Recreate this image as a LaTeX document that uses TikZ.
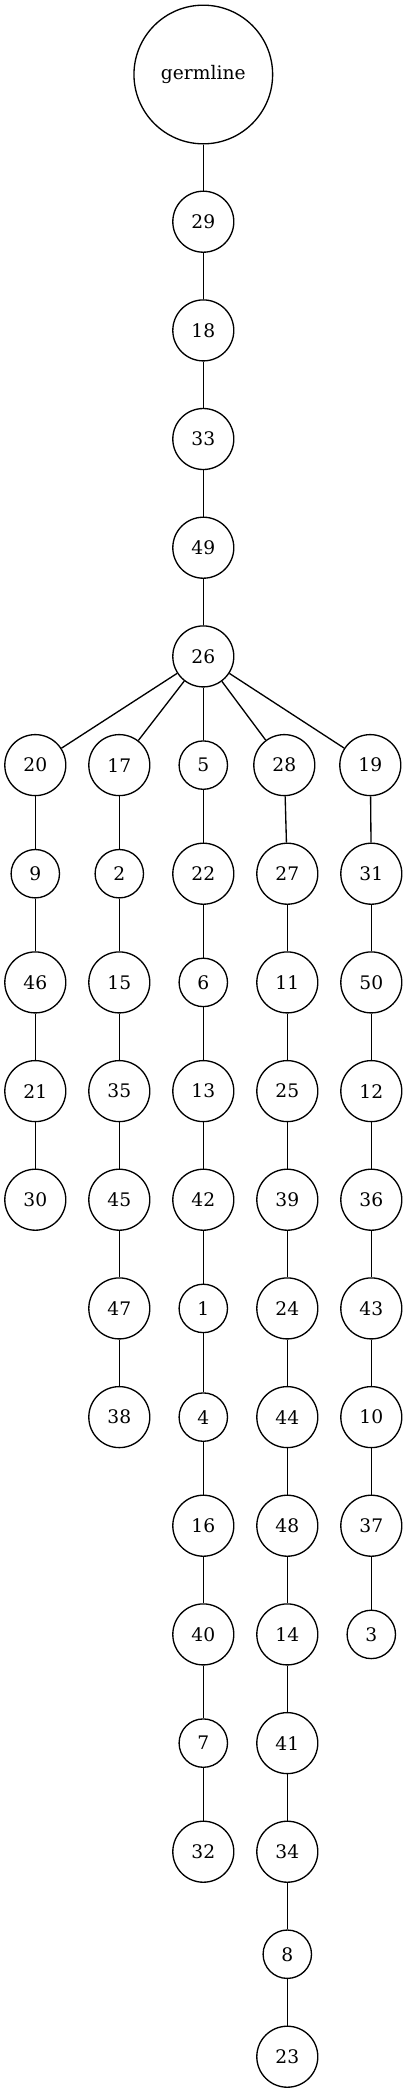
\documentclass[tikz,border=0pt]{standalone}
\usepackage{fontspec}
\setmainfont{DejaVu Serif}
\usepackage{tikz}

\begin{document}
\begin{tikzpicture}[x=0.75pt,y=0.75pt,yscale=-1,xscale=1,
    every node/.style={font=\fontsize{14}{17}\selectfont},
    numnode/.style={draw,circle,line width=1pt,inner sep=0pt,minimum size=45.75pt},
    onenode/.style={draw,circle,line width=1pt,inner sep=0pt,minimum size=36.3pt},
    germnode/.style={draw,circle,line width=1pt,inner sep=0pt,minimum size=104pt},
    edge/.style={line width=1pt}]
        %set diagram left start at 0, and has height of 2093
        \useasboundingbox (0,0) rectangle (407,2093);

        % Root
        \node [germnode] (germ) at (203.3,74.5) {germline};
        \node [numnode] (n29) at (203.3,221.7) {29};
        \node [numnode] (n18) at (203.3,330.4) {18};
        \node [numnode] (n33) at (203.3,439.0) {33};
        \node [numnode] (n49) at (203.3,547.7) {49};
        \node [numnode] (n26) at (203.3,656.4) {26};

        % Branch 20
        \node [numnode] (n20) at (35.3,765.1) {20};
        \node [onenode] (n9) at (35.3,873.7) {9};
        \node [numnode] (n46) at (35.3,982.4) {46};
        \node [numnode] (n21) at (35.3,1091.1) {21};
        \node [numnode] (n30) at (35.3,1199.7) {30};

        % Branch 17
        \node [numnode] (n17) at (119.3,765.1) {17};
        \node [onenode] (n2) at (119.3,873.7) {2};
        \node [numnode] (n15) at (119.3,982.4) {15};
        \node [numnode] (n35) at (119.3,1091.1) {35};
        \node [numnode] (n45) at (119.3,1199.7) {45};
        \node [numnode] (n47) at (119.3,1308.4) {47};
        \node [numnode] (n38) at (119.3,1417.1) {38};

        % Branch 5
        \node [onenode] (n5) at (203.3,765.1) {5};
        \node [numnode] (n22) at (203.3,873.7) {22};
        \node [onenode] (n6) at (203.3,982.4) {6};
        \node [numnode] (n13) at (203.3,1091.1) {13};
        \node [numnode] (n42) at (203.3,1199.7) {42};
        \node [onenode] (n1) at (203.3,1308.4) {1};
        \node [onenode] (n4) at (203.3,1417.1) {4};
        \node [numnode] (n16) at (203.3,1525.7) {16};
        \node [numnode] (n40) at (203.3,1634.4) {40};
        \node [onenode] (n7) at (203.3,1743.1) {7};
        \node [numnode] (n32) at (203.3,1851.7) {32};

        % Branch 28
        \node [numnode] (n28) at (284.3,765.1) {28};
        \node [numnode] (n27) at (287.3,873.7) {27};
        \node [numnode] (n11) at (287.3,982.4) {11};
        \node [numnode] (n25) at (287.3,1091.1) {25};
        \node [numnode] (n39) at (287.3,1199.7) {39};
        \node [numnode] (n24) at (287.3,1308.4) {24};
        \node [numnode] (n44) at (287.3,1417.1) {44};
        \node [numnode] (n48) at (287.3,1525.7) {48};
        \node [numnode] (n14) at (287.3,1634.4) {14};
        \node [numnode] (n41) at (287.3,1743.1) {41};
        \node [numnode] (n34) at (287.3,1851.7) {34};
        \node [onenode] (n8) at (287.3,1954.2) {8};
        \node [numnode] (n23) at (287.3,2056.7) {23};

        % Branch 19
        \node [numnode] (n19) at (370.3,765.1) {19};
        \node [numnode] (n31) at (371.3,873.7) {31};
        \node [numnode] (n50) at (371.3,982.4) {50};
        \node [numnode] (n12) at (371.3,1091.1) {12};
        \node [numnode] (n36) at (371.3,1199.7) {36};
        \node [numnode] (n43) at (371.3,1308.4) {43};
        \node [numnode] (n10) at (371.3,1417.1) {10};
        \node [numnode] (n37) at (371.3,1525.7) {37};
        \node [onenode] (n3) at (371.3,1634.4) {3};

        %Straight Lines
        \draw [edge] (germ) -- (n29) ;
        \draw [edge] (n29) -- (n18) ;
        \draw [edge] (n18) -- (n33) ;
        \draw [edge] (n33) -- (n49) ;
        \draw [edge] (n49) -- (n26) ;
        \draw [edge] (n26) -- (n20) ;
        \draw [edge] (n26) -- (n17) ;
        \draw [edge] (n26) -- (n5) ;
        \draw [edge] (n26) -- (n28) ;
        \draw [edge] (n26) -- (n19) ;

        %Straight Lines
        \draw [edge] (n20) -- (n9) ;
        \draw [edge] (n9) -- (n46) ;
        \draw [edge] (n46) -- (n21) ;
        \draw [edge] (n21) -- (n30) ;

        %Straight Lines
        \draw [edge] (n17) -- (n2) ;
        \draw [edge] (n2) -- (n15) ;
        \draw [edge] (n15) -- (n35) ;
        \draw [edge] (n35) -- (n45) ;
        \draw [edge] (n45) -- (n47) ;
        \draw [edge] (n47) -- (n38) ;

        %Straight Lines
        \draw [edge] (n5) -- (n22) ;
        \draw [edge] (n22) -- (n6) ;
        \draw [edge] (n6) -- (n13) ;
        \draw [edge] (n13) -- (n42) ;
        \draw [edge] (n42) -- (n1) ;
        \draw [edge] (n1) -- (n4) ;
        \draw [edge] (n4) -- (n16) ;
        \draw [edge] (n16) -- (n40) ;
        \draw [edge] (n40) -- (n7) ;
        \draw [edge] (n7) -- (n32) ;

        %Straight Lines
        \draw [edge] (n28) -- (n27) ;
        \draw [edge] (n27) -- (n11) ;
        \draw [edge] (n11) -- (n25) ;
        \draw [edge] (n25) -- (n39) ;
        \draw [edge] (n39) -- (n24) ;
        \draw [edge] (n24) -- (n44) ;
        \draw [edge] (n44) -- (n48) ;
        \draw [edge] (n48) -- (n14) ;
        \draw [edge] (n14) -- (n41) ;
        \draw [edge] (n41) -- (n34) ;
        \draw [edge] (n34) -- (n8) ;
        \draw [edge] (n8) -- (n23) ;

        %Straight Lines
        \draw [edge] (n19) -- (n31) ;
        \draw [edge] (n31) -- (n50) ;
        \draw [edge] (n50) -- (n12) ;
        \draw [edge] (n12) -- (n36) ;
        \draw [edge] (n36) -- (n43) ;
        \draw [edge] (n43) -- (n10) ;
        \draw [edge] (n10) -- (n37) ;
        \draw [edge] (n37) -- (n3) ;

    \end{tikzpicture}
\end{document}
